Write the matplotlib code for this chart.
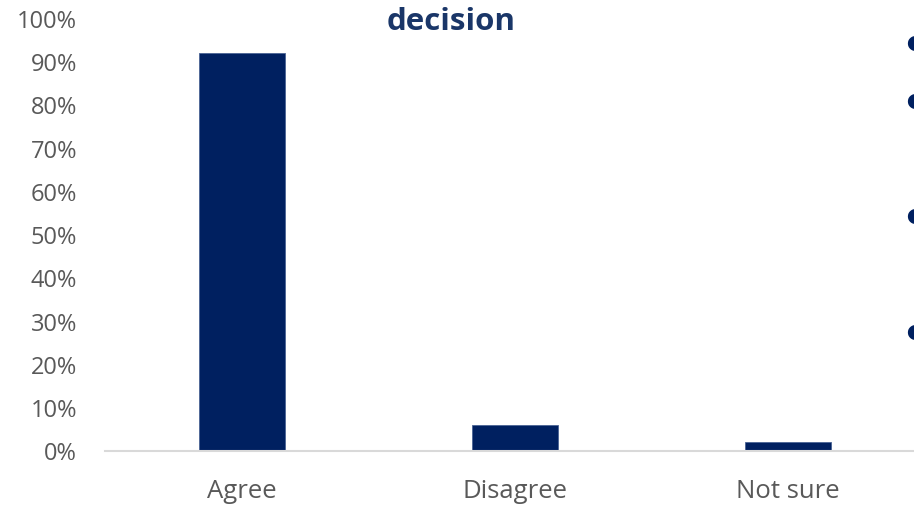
import matplotlib
matplotlib.use("Agg")
import matplotlib.pyplot as plt
from matplotlib.ticker import PercentFormatter

categories = ["Agree", "Disagree", "Not sure"]
values = [0.92, 0.06, 0.02]
yticks = [0, 0.1, 0.2, 0.3, 0.4, 0.5, 0.6, 0.7, 0.8, 0.9, 1.0]
title_text = "decision"

W, H = 914, 506
fig = plt.figure(figsize=(W / 100, H / 100), dpi=100)
ax = fig.add_axes([105 / W, 54.5 / H, (924.5 - 105) / W, 432.5 / H])

bar_color = "#002060"
ax.bar(range(len(categories)), values, width=0.315, color=bar_color,
       edgecolor="#4a6394", linewidth=0.6)

ax.set_xlim(-0.5, len(categories) - 0.5)
ax.set_ylim(0, 1.0)
ax.set_yticks(yticks)
ax.yaxis.set_major_formatter(PercentFormatter(1.0, decimals=0))
ax.set_xticks(range(len(categories)))
ax.set_xticklabels(categories)

for s in ["top", "right", "left"]:
    ax.spines[s].set_visible(False)
ax.spines["bottom"].set_color("#d9d9d9")
ax.spines["bottom"].set_linewidth(1.5)
ax.tick_params(axis="both", length=0, colors="#595959")
ax.tick_params(axis="y", pad=20, labelsize=17)
ax.tick_params(axis="x", pad=20, labelsize=18.5)
for lab in ax.get_xticklabels() + ax.get_yticklabels():
    lab.set_fontfamily("Open Sans")

fig.text(451 / W, 1 - 30 / H, title_text, ha="center", va="baseline",
         fontsize=22.5, fontweight="bold", color="#1a3668", family="Open Sans")

for yy in [42, 100, 215, 331]:
    fig.text(915 / W, 1 - (yy + 6) / H, "\u2022", ha="center", va="center",
             fontsize=38, color=bar_color, family="DejaVu Sans")

fig.savefig("out.png", dpi=100)
